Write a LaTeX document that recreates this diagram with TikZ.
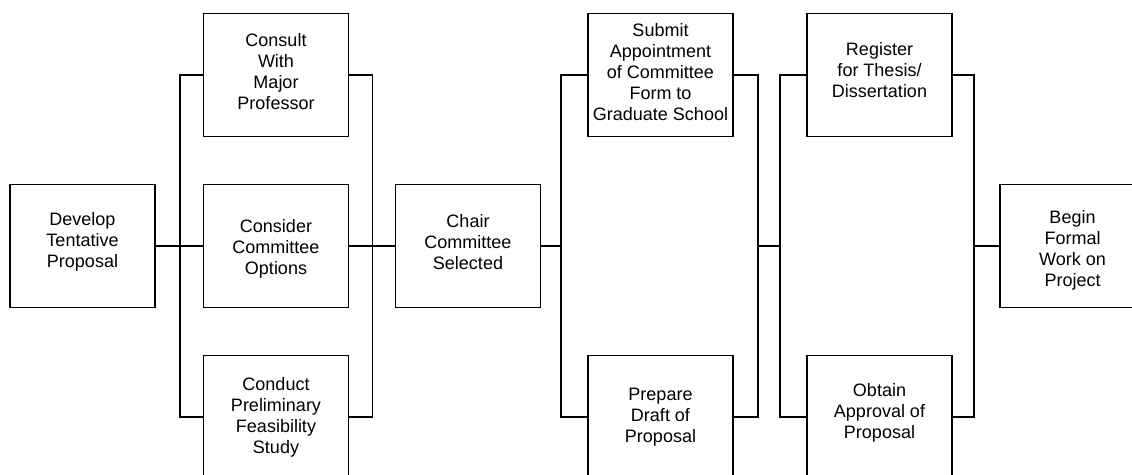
\documentclass[tikz,border=0pt]{standalone}
\usepackage{fontspec}
\setmainfont{Liberation Sans}
\newcommand{\dnrule}[1]{\rule{0pt}{#1}}
\newcommand{\uprule}[1]{\rule[-#1]{0pt}{#1}}
\begin{document}
\begin{tikzpicture}[x=1pt,y=-1pt,
  stepbox/.style={draw, line width=1.6pt, minimum width=145pt, minimum height=123pt,
    align=center, inner sep=0pt, font=\fontsize{18}{21}\selectfont},
  conn/.style={line width=1.6pt}]
\useasboundingbox (0,0) rectangle (1132,474);
\clip (0,0) rectangle (1132,474);
\fill[white] (0,0) rectangle (1132,474);
% nodes
\node[stepbox] (dev) at (82.5,246) {Develop\\Tentative\\Proposal\uprule{12.8pt}};
\node[stepbox] (consult) at (276,75) {Consult\\With\\Major\\Professor\uprule{7.2pt}};
\node[stepbox] (consider) at (276,246) {\dnrule{19.5pt}Consider\\Committee\\Options};
\node[stepbox] (conduct) at (276,417) {Conduct\\Preliminary\\Feasibility\\Study};
\node[stepbox] (chair) at (468,246) {Chair\\Committee\\Selected\uprule{8.2pt}};
\node[stepbox] (submit) at (660.5,75) {Submit\\Appointment\\of Committee\\Form to\\Graduate School\uprule{5.2pt}};
\node[stepbox] (prepare) at (660.5,417) {Prepare\\Draft of\\Proposal};
\node[stepbox] (register) at (879.5,75) {Register\\for Thesis/\\Dissertation\uprule{11pt}};
\node[stepbox] (obtain) at (879.5,417) {Obtain\\Approval of\\Proposal\uprule{12.8pt}};
\node[stepbox] (begin) at (1072.5,246) {\dnrule{21.5pt}Begin\\Formal\\Work on\\Project};
% junction coordinates
\coordinate (j2) at (562,246);
\coordinate (j3a) at (757,246);
\coordinate (j3b) at (781,246);
\coordinate (j4) at (973,246);
% group 1
\draw[conn] (consult.west) -- ++(-23,0) |- (conduct.west);
\draw[conn] (consult.east) -- ++(23,0) |- (conduct.east);
\draw[conn] (dev.east) -- (consider.west);
\draw[conn] (consider.east) -- (chair.west);
% group 2
\draw[conn] (chair.east) -- (j2);
\draw[conn] (submit.west) -- ++(-26,0) |- (prepare.west);
\draw[conn] (submit.east) -- ++(24,0) |- (prepare.east);
\draw[conn] (j3a) -- (j3b);
% group 3
\draw[conn] (register.west) -- ++(-26,0) |- (obtain.west);
\draw[conn] (register.east) -- ++(21,0) |- (obtain.east);
\draw[conn] (j4) -- (begin.west);
\end{tikzpicture}
\end{document}
